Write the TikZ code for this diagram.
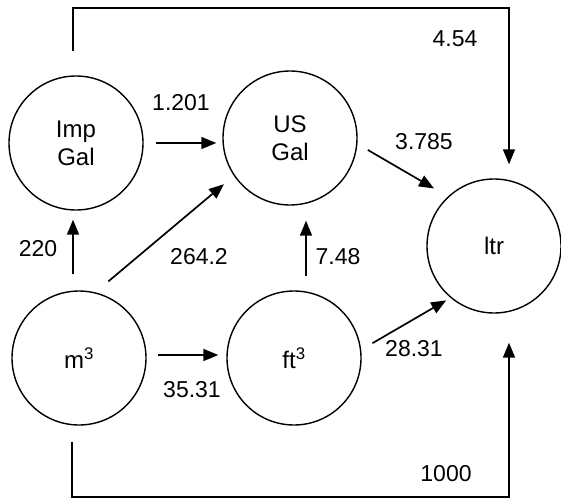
\documentclass[tikz,border=0pt]{standalone}
\usepackage{fontspec}
\setmainfont{Liberation Sans}
\usepackage{tikz}
\usetikzlibrary{arrows.meta}
\tikzset{
  unitnode/.style={
    draw,
    circle,
    line width=1.4pt,
    minimum size=134pt,
    inner sep=0pt,
    align=center,
    font=\fontsize{24}{28}\selectfont
  },
  convarrow/.style={
    -{Triangle[length=15pt,width=12pt]},
    line width=1.7pt
  },
  factor/.style={
    inner sep=0pt,
    font=\fontsize{23}{27}\selectfont
  }
}

\begin{document}
\begin{tikzpicture}[x=1pt,y=-1pt]
    \useasboundingbox (0,0) rectangle (561,500);

    \node[unitnode] (imp) at (76,143) {Imp\\Gal};
    \node[unitnode] (us) at (290,138) {US\\Gal};
    \node[unitnode] (ltr) at (494,246) {ltr};
    \node[unitnode] (cubm) at (79,358) {m\textsuperscript{3}};
    \node[unitnode] (cubft) at (294,358) {ft\textsuperscript{3}};

    \coordinate (topR) at (509,8);
    \coordinate (botR) at (509,497);

    \draw[convarrow, shorten <=12pt, shorten >=6pt] (imp.east) -- (imp.east -| us.west);
    \draw[convarrow, shorten <=16pt, shorten >=9pt] ([xshift=-6pt]cubm.north) -- ([xshift=-6pt]cubm.north |- imp.south);
    \draw[convarrow, shorten <=17pt, shorten >=13pt] (cubm.76) -- (us.214);
    \draw[convarrow, shorten <=14pt, shorten >=15pt] ([xshift=12pt]cubft.north) -- ([xshift=12pt]cubft.north |- us.south);
    \draw[convarrow, shorten <=11pt, shorten >=8pt] ([yshift=3pt]cubm.east) -- ([yshift=3pt]cubm.east -| cubft.west);
    \draw[convarrow, shorten <=12pt, shorten >=16pt] (us.-5) -- (ltr.133);
    \draw[convarrow, shorten <=13pt, shorten >=5pt] (cubft.7) -- (ltr.230);
    \draw[convarrow, shorten <=24pt, shorten >=14pt] ([xshift=-3pt]imp.north) |- (topR) -- ([xshift=15pt]ltr.north);
    \draw[convarrow, shorten <=16pt, shorten >=29pt] ([xshift=-7pt]cubm.south) |- (botR) -- ([xshift=15pt]ltr.south);

    \node[factor] (f-imp-us) at (181,103) {1.201};
    \node[factor] (f-imp-ltr) at (455,39) {4.54};
    \node[factor] (f-us-ltr) at (424,142) {3.785};
    \node[factor] (f-m-imp) at (38,249) {220};
    \node[factor] (f-m-us) at (199,257) {264.2};
    \node[factor] (f-ft-us) at (338,257) {7.48};
    \node[factor] (f-m-ft) at (192,390) {35.31};
    \node[factor] (f-ft-ltr) at (414,349) {28.31};
    \node[factor] (f-m-ltr) at (446,474) {1000};
\end{tikzpicture}
\end{document}
